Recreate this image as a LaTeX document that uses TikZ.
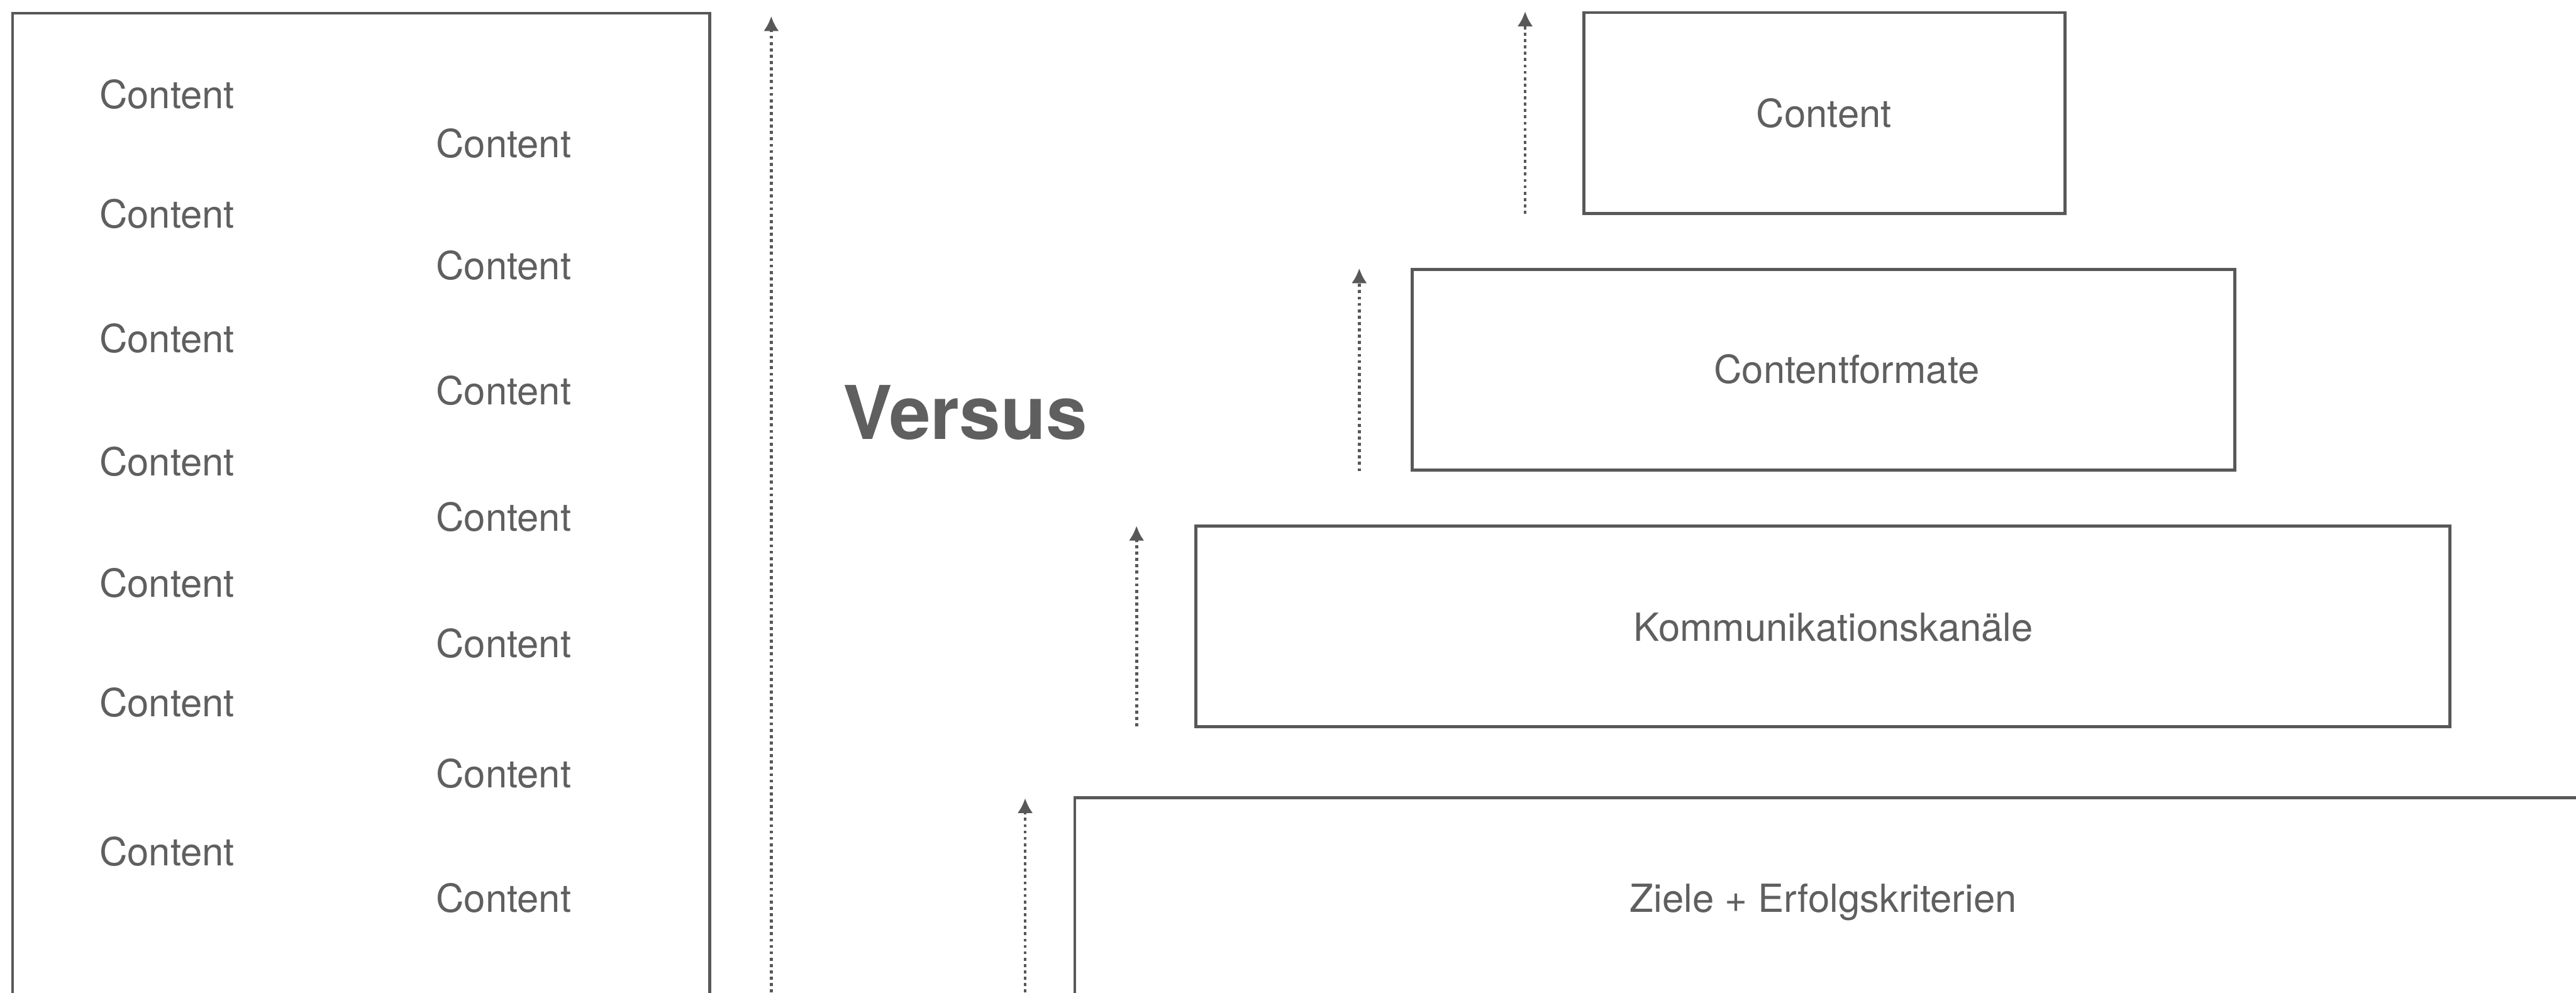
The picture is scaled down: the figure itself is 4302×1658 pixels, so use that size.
\documentclass[tikz,border=0pt]{standalone}
\usepackage{fontspec}
\setmainfont{TeX Gyre Heros}
\usetikzlibrary{arrows.meta}
\definecolor{ink}{HTML}{585858}
\definecolor{txt}{HTML}{5F5F5F}
\begin{document}
\begin{tikzpicture}[x=0.01cm,y=-0.01cm,
  frame/.style={draw=ink,line width=1.45pt,inner sep=0pt,outer sep=0pt,anchor=north west},
  lbl/.style={text=txt,font=\fontsize{18.4}{22}\selectfont,inner sep=0pt,text height=13.2pt,text depth=0pt},
  big/.style={text=txt,font=\fontsize{35.2}{40}\selectfont\bfseries,inner sep=0pt,text height=25.3pt,text depth=0pt},
  flow/.style={draw=ink,line width=1.42pt,dash pattern=on 1.42pt off 1.6pt,-{Latex[length=7.1pt,width=7.4pt]}}]
\useasboundingbox (0,0) rectangle (4302,1658);
\clip (0,0) rectangle (4302,1658);
% left box
\node[frame,minimum width=11.64cm,minimum height=17cm] (left) at (21,22) {};
\node[lbl] (l1) at (279,158) {Content};
\node[lbl] (l2) at (279,357) {Content};
\node[lbl] (l3) at (279,565) {Content};
\node[lbl] (l4) at (279,771) {Content};
\node[lbl] (l5) at (279,974) {Content};
\node[lbl] (l6) at (279,1174) {Content};
\node[lbl] (l7) at (279,1423) {Content};
\node[lbl] (r1) at (841,240) {Content};
\node[lbl] (r2) at (841,444) {Content};
\node[lbl] (r3) at (841,653) {Content};
\node[lbl] (r4) at (841,864) {Content};
\node[lbl] (r5) at (841,1075) {Content};
\node[lbl] (r6) at (841,1292) {Content};
\node[lbl] (r7) at (841,1500) {Content};
% versus
\node[big] (vs) at (1612,689) {Versus};
% right boxes
\node[frame,minimum width=8.03cm,minimum height=3.35cm] (b1) at (2645,21) {};
\node[frame,minimum width=13.73cm,minimum height=3.35cm] (b2) at (2358,450) {};
\node[frame,minimum width=20.93cm,minimum height=3.34cm] (b3) at (1997,879) {};
\node[frame,minimum width=26.05cm,minimum height=3.9cm] (b4) at (1795,1332) {};
\node[lbl] (t1) at (3046,190) {Content};
\node[lbl] (t2) at (3084,617) {Contentformate};
\node[lbl] (t3) at (3062,1048) {Kommunikationskanäle};
\node[lbl] (t4) at (3045,1500) {Ziele + Erfolgskriterien};
% arrows
\coordinate (a1s) at (1288,1700); \coordinate (a1e) at (1288,27);
\coordinate (a2s) at (1712,1700); \coordinate (a2e) at (1712,1333);
\coordinate (a3s) at (1898,1213); \coordinate (a3e) at (1898,878);
\coordinate (a4s) at (2270,787);  \coordinate (a4e) at (2270,448);
\coordinate (a5s) at (2547,357);  \coordinate (a5e) at (2547,19);
\draw[flow] (a1s) -- (a1e);
\draw[flow] (a2s) -- (a2e);
\draw[flow] (a3s) -- (a3e);
\draw[flow] (a4s) -- (a4e);
\draw[flow] (a5s) -- (a5e);
\end{tikzpicture}
\end{document}
